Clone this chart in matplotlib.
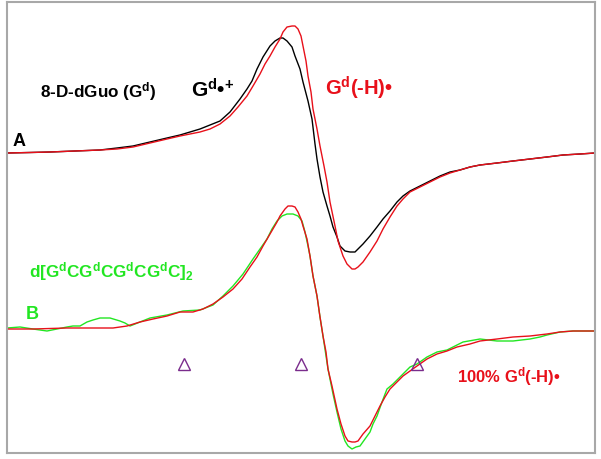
import matplotlib
matplotlib.use("Agg")
import matplotlib.pyplot as plt
import numpy as np

plt.rcParams["font.family"] = ["Liberation Sans", "DejaVu Sans"]
plt.rcParams["font.weight"] = "bold"
plt.rcParams["mathtext.fontset"] = "custom"
plt.rcParams["mathtext.rm"] = "Liberation Sans:bold"
plt.rcParams["mathtext.default"] = "rm"

# field axis (arbitrary units) and signal (depth below top of frame)
# spectrum A: 8-D-dGuo, G.+ (black) and G(-H). (red)
fieldA_black = [7, 30, 50, 75, 100, 117, 133, 150, 167, 180, 190, 200, 210, 220, 230, 240, 247, 252,
                257, 263, 270, 275, 280, 283, 287, 292, 295, 300, 303, 308, 312, 315, 317, 320,
                323, 327, 330, 333, 337, 340, 345, 350, 355, 358, 363, 370, 377, 383, 390, 397,
                403, 410, 420, 430, 440, 450, 460, 470, 480, 497, 513, 530, 547, 563, 580, 595]
sigA_black = [154, 153.5, 153, 152, 151, 149, 147, 143, 139, 136, 133, 130, 126, 122, 113, 100, 90, 82,
              70, 58, 47, 42, 39, 39, 42, 48, 57, 70, 83, 102, 120, 145, 160, 178,
              193, 207, 217, 228, 238, 247, 252, 253, 253, 250, 245, 237, 228, 220, 212, 203,
              197, 192, 187, 182, 177, 173, 171, 168, 166, 164, 162, 160, 158, 156, 155, 154]
fieldA_red = [7, 30, 50, 75, 100, 117, 133, 150, 167, 180, 200, 210, 220, 230, 238, 247, 253, 260,
              265, 270, 275, 280, 283, 287, 292, 295, 298, 301, 303, 306, 308, 311, 313, 317, 320,
              322, 324, 327, 330, 335, 338, 343, 347, 352, 355, 358, 363, 370, 377, 383, 390, 397,
              403, 410, 420, 430, 440, 450, 460, 470, 480, 497, 513, 530, 547, 563, 580, 595]
sigA_red = [154, 153.5, 153, 152, 151, 150, 148, 144, 140, 137, 133, 130, 125, 117, 108, 97, 87, 75,
            65, 57, 48, 40, 33, 28, 27, 27, 30, 37, 47, 62, 77, 93, 110, 130, 147,
            157, 167, 183, 203, 227, 242, 257, 265, 270, 270, 268, 263, 253, 242, 230, 218, 207,
            200, 193, 188, 183, 178, 174, 171, 168, 166, 164, 162, 160, 158, 156, 155, 154]

# spectrum B: d[GCGCGCGC]2 (green) and 100% G(-H). simulation (red)
fieldB_red = [7, 33, 67, 100, 113, 127, 140, 153, 167, 180, 193, 203, 213, 223, 233, 242, 250, 257,
              263, 270, 277, 280, 285, 288, 292, 295, 298, 301, 303, 307, 310, 313, 317, 320, 323,
              326, 328, 332, 337, 341, 345, 348, 352, 355, 358, 363, 370, 375, 380, 385, 390, 397,
              403, 410, 417, 427, 437, 447, 457, 470, 480, 497, 513, 530, 547, 560, 573, 595]
sigB_red = [330, 330, 329, 329, 329, 327, 323, 320, 317, 313, 313, 310, 305, 298, 290, 280, 268, 258,
            247, 235, 223, 217, 210, 207, 207, 208, 213, 220, 227, 240, 257, 277, 297, 318, 337,
            353, 370, 387, 410, 425, 437, 442, 443, 443, 442, 435, 427, 417, 407, 398, 390, 383,
            377, 372, 367, 360, 355, 352, 348, 345, 342, 340, 338, 337, 335, 333, 332, 332]
fieldB_green = [7, 20, 33, 47, 57, 67, 73, 80, 87, 93, 100, 110, 120, 125, 130, 140, 150, 167, 183, 200,
                213, 223, 233, 243, 253, 260, 267, 272, 277, 282, 287, 293, 298, 302, 305, 308, 310,
                313, 317, 320, 323, 328, 333, 337, 341, 345, 348, 352, 356, 360, 365, 370, 373, 377,
                382, 387, 393, 400, 405, 410, 417, 427, 437, 447, 463, 480, 497, 513, 530, 540, 547,
                560, 573, 595]
sigB_green = [329, 328, 330, 332, 330, 328, 327, 327, 323, 321, 319, 319, 322, 324, 327, 323, 319, 316,
              312, 311, 306, 297, 287, 275, 260, 250, 240, 230, 222, 217, 215, 215, 217, 222, 233,
              247, 257, 277, 297, 318, 337, 370, 395, 413, 430, 442, 447, 450, 448, 447, 440, 433,
              425, 417, 403, 390, 385, 378, 373, 368, 365, 358, 353, 351, 343, 340, 342, 342, 340,
              338, 336, 333, 332, 332]

marker_field = [184, 301, 417]
marker_level = [365, 365, 365]

fig = plt.figure(figsize=(6.01, 4.60), dpi=100)
ax = fig.add_axes([7 / 601, 6 / 460, 588 / 601, 451 / 460])

ax.plot(fieldA_black, -np.array(sigA_black), color="black", lw=1.0)
ax.plot(fieldA_red, -np.array(sigA_red), color="#e8101a", lw=1.0)
ax.plot(fieldB_green, -np.array(sigB_green), color="#22e622", lw=1.0)
ax.plot(fieldB_red, -np.array(sigB_red), color="#e8101a", lw=1.0)
ax.plot(marker_field, -np.array(marker_level), ls="none", marker="^", ms=8,
        mfc="none", mec="#7a2c8c", mew=1.0)

ax.set_xlim(7, 595)
ax.set_ylim(-454, -3)
ax.set_xticks([])
ax.set_yticks([])
for s in ax.spines.values():
    s.set_color("#a8a8a8")
    s.set_linewidth(1.5)

ax.text(40, -92, "8-D-dGuo (G$^{d}$)", fontsize=12.3, color="black", va="center")
ax.text(191, -90, "G$^{d}$•$^{+}$", fontsize=15, color="black", va="center")
ax.text(325, -88, "G$^{d}$(-H)•", fontsize=14.5, color="#e8101a", va="center")
ax.text(13, -142, "A", fontsize=13, color="black", va="center")
ax.text(26, -315, "B", fontsize=13, color="#22e622", va="center")
ax.text(29, -272, "d[G$^{d}$CG$^{d}$CG$^{d}$CG$^{d}$C]$_{2}$", fontsize=12.3, color="#22e622", va="center")
ax.text(457, -377, "100% G$^{d}$(-H)•", fontsize=12, color="#e8101a", va="center")

fig.savefig("out.png", dpi=100)
